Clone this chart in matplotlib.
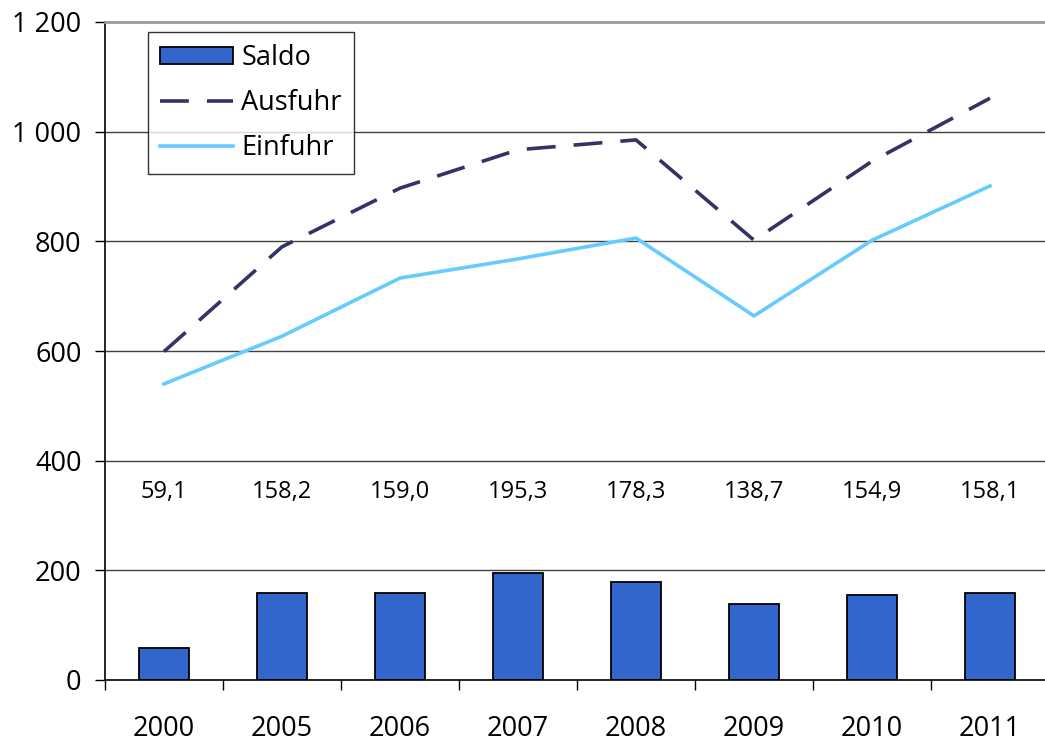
import numpy as np
import matplotlib
matplotlib.use('Agg')
import matplotlib.pyplot as plt
from matplotlib.ticker import FuncFormatter, FixedLocator

# Data
years = ['2000', '2005', '2006', '2007', '2008', '2009', '2010', '2011']
saldo = [59.1, 158.2, 159.0, 195.3, 178.3, 138.7, 154.9, 158.1]
ausfuhr = [599, 790, 897, 967, 985, 802, 946, 1061]
einfuhr = [540, 627, 733, 768, 806, 664, 802, 901]
saldo_labels = ['59,1', '158,2', '159,0', '195,3', '178,3', '138,7', '154,9', '158,1']

plt.rcParams['font.family'] = ['Open Sans', 'DejaVu Sans']

x = np.arange(len(years))

fig = plt.figure(figsize=(10.45, 7.45), dpi=100)
ax = fig.add_axes([105 / 1045, 65 / 745, 944 / 1045, 658 / 745])

# grid lines
for v in [200, 400, 600, 800, 1000]:
    ax.axhline(v, color='#404040', lw=1.0, zorder=0)

b = ax.bar(x, saldo, width=0.42, color='#3366CC', edgecolor='black', lw=1.3,
           label='Saldo', zorder=2)
l1, = ax.plot(x, ausfuhr, color='#333366', lw=2.6, dashes=(8, 5), label='Ausfuhr', zorder=3)
l2, = ax.plot(x, einfuhr, color='#66CCFF', lw=2.6, label='Einfuhr', zorder=3)

# value labels at a fixed height
for i, lab in enumerate(saldo_labels):
    ax.text(x[i], 343, lab, ha='center', va='center', fontsize=17)

ax.set_xlim(-0.5, 7.5)
ax.set_ylim(0, 1200)
ax.set_yticks([0, 200, 400, 600, 800, 1000, 1200])
ax.yaxis.set_major_formatter(FuncFormatter(lambda v, p: '{:,.0f}'.format(v).replace(',', ' ')))
ax.set_xticks(x)
ax.set_xticklabels(years)
ax.xaxis.set_minor_locator(FixedLocator(np.arange(-0.5, 7.6, 1.0)))
ax.tick_params(axis='x', which='major', length=0, pad=25, labelsize=19.5)
ax.tick_params(axis='x', which='minor', length=7, width=1, direction='out')
ax.tick_params(axis='y', length=7, width=1, pad=10, labelsize=19.5)

ax.spines['right'].set_visible(False)
ax.spines['top'].set_color('#999999')
ax.spines['top'].set_linewidth(2)
ax.spines['left'].set_linewidth(1.2)
ax.spines['bottom'].set_linewidth(1.2)

leg = ax.legend([b, l1, l2], ['Saldo', 'Ausfuhr', 'Einfuhr'],
                loc='upper left', bbox_to_anchor=(43 / 944, 648 / 658), fontsize=19.5,
                frameon=True, fancybox=False, edgecolor='black', borderaxespad=0,
                handlelength=2.7, handleheight=0.6, handletextpad=0.3,
                labelspacing=0.62, borderpad=0.45)
leg.get_frame().set_linewidth(1.0)

fig.savefig('out.png', dpi=100)
